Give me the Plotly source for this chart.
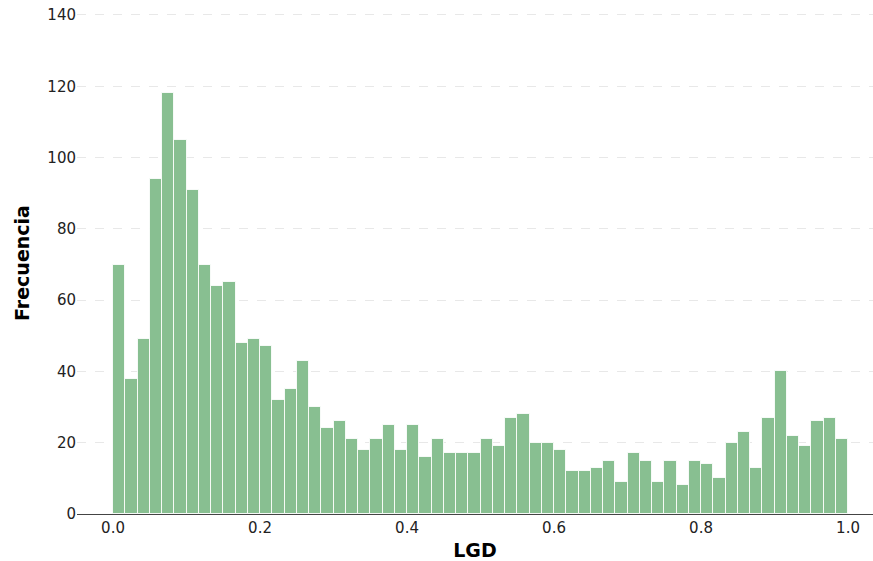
import numpy as np
import plotly.graph_objects as go

counts = [70, 38, 49, 94, 118, 105, 91, 70, 64, 65, 48, 49, 47, 32, 35, 43, 30, 24, 26, 21,
          18, 21, 25, 18, 25, 16, 21, 17, 17, 17, 21, 19, 27, 28, 20, 20, 18, 12, 12, 13,
          15, 9, 17, 15, 9, 15, 8, 15, 14, 10, 20, 23, 13, 27, 40, 22, 19, 26, 27, 21]
edges = np.linspace(0.0, 1.0, len(counts) + 1)
centers = (edges[:-1] + edges[1:]) / 2
width = edges[1] - edges[0]

x_ticks = [0.0, 0.2, 0.4, 0.6, 0.8, 1.0]
x_tick_labels = ["0.0", "0.2", "0.4", "0.6", "0.8", "1.0"]
y_ticks = [0, 20, 40, 60, 80, 100, 120, 140]

fig = go.Figure()
fig.add_trace(go.Bar(
    x=centers, y=counts, width=width,
    marker=dict(color="#88bf91", line=dict(color="rgba(255,255,255,0.85)", width=1)),
    hoverinfo="x+y",
))

fig.update_layout(
    width=873, height=561,
    margin=dict(l=77, r=0, t=12, b=47),
    paper_bgcolor="white", plot_bgcolor="white",
    font=dict(family="DejaVu Sans", size=15, color="#222222"),
    showlegend=False,
    bargap=0,
)
fig.update_xaxes(
    range=[-0.049, 1.034],
    tickvals=x_ticks, ticktext=x_tick_labels,
    showgrid=False, zeroline=False,
    showline=True, linecolor="#444444", linewidth=1,
    ticks="", ticklen=0, automargin=False,
    title=dict(text="<b>LGD</b>", font=dict(size=19, color="black"), standoff=12),
)
fig.update_yaxes(
    range=[0, 140.84],
    tickvals=y_ticks,
    showgrid=True, gridcolor="#e8e8e8", griddash="dash", gridwidth=1,
    zeroline=False, showline=False,
    ticks="", ticklen=0, automargin=False,
    title=dict(text="<b>Frecuencia</b>", font=dict(size=19, color="black"), standoff=12),
)

fig.write_html("out.html", config={"displayModeBar": False},
               post_script="document.body.style.margin='0';")
